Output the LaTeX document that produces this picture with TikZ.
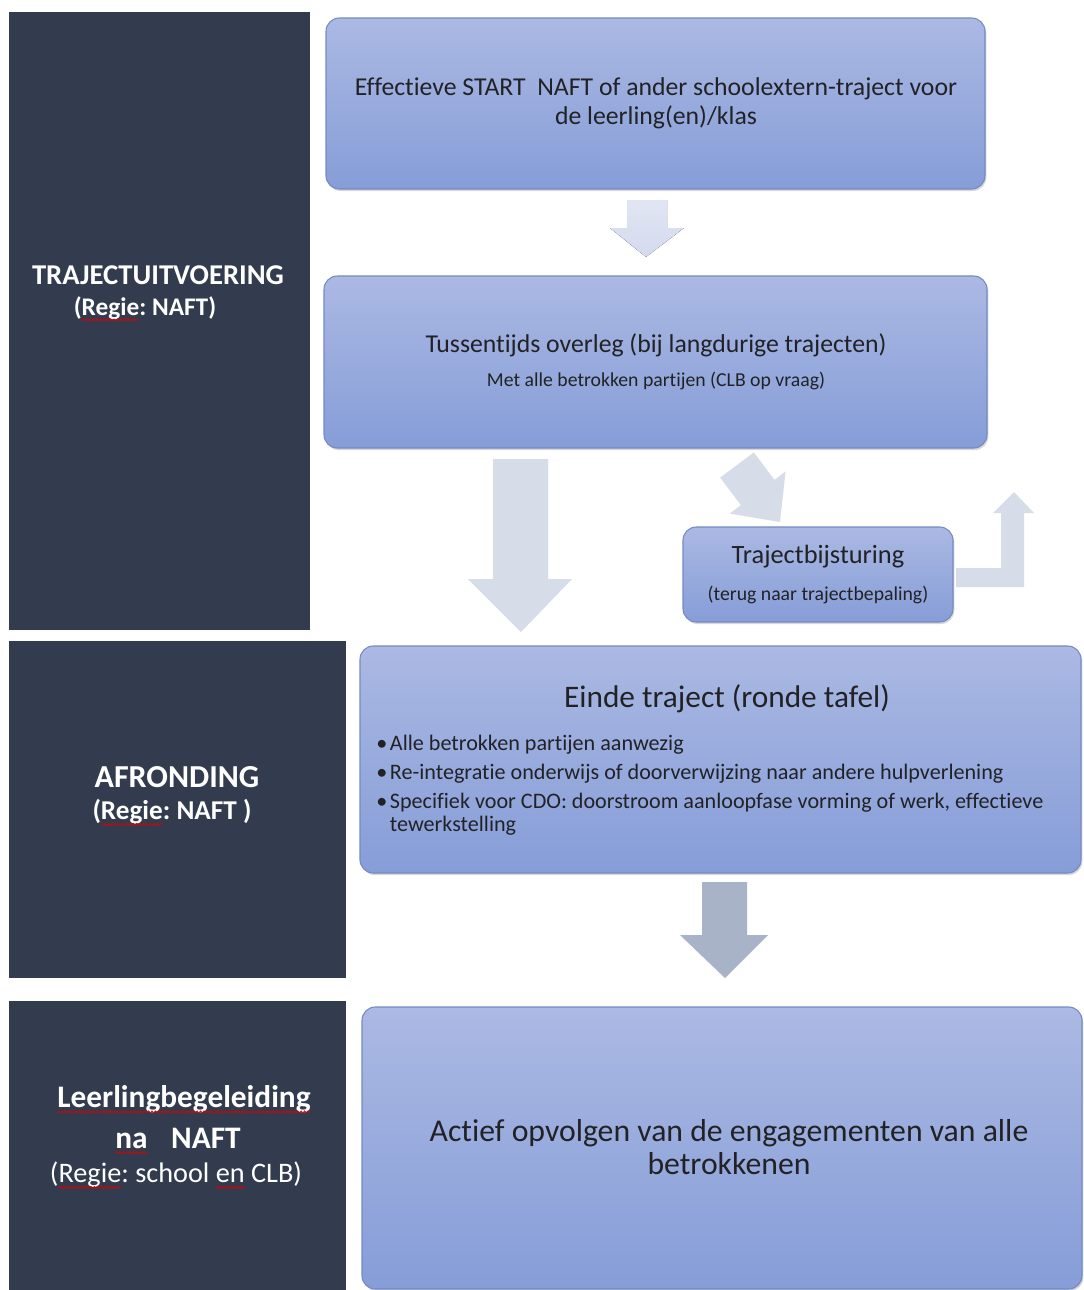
\documentclass[tikz,border=0pt]{standalone}
\usepackage{fontspec}
\setmainfont{Carlito}[Ligatures={NoCommon}]
\frenchspacing
\usetikzlibrary{shadows,decorations.pathmorphing}
\newcommand\redwave[1]{\tikz[baseline=(wv.base),x=1pt,y=1pt]{\node[inner sep=0pt,outer sep=0pt,anchor=base] (wv) {#1};
  \draw[overlay, red!85!black, line width=0.6pt, decorate, decoration={snake, amplitude=0.7pt, segment length=2.6pt}] ([yshift=-3.4pt]wv.base west) -- ([yshift=-3.4pt]wv.base east);}}
\definecolor{panel}{RGB}{50,60,78}
\definecolor{boxtop}{RGB}{171,185,227}
\definecolor{boxbot}{RGB}{134,157,216}
\definecolor{boxline}{RGB}{118,137,194}
\definecolor{arrowlight}{RGB}{214,220,232}
\definecolor{arrowpale}{RGB}{212,218,238}
\definecolor{arrowdark}{RGB}{168,179,200}
\definecolor{txt}{RGB}{34,34,38}
\begin{document}
\begin{tikzpicture}[x=0.75pt,y=-0.75pt,
  panelbox/.style={fill=panel, draw=none, anchor=north west, inner sep=0pt},
  bluebox/.style={rounded corners=10pt, draw=boxline, line width=0.8pt,
    top color=boxtop, bottom color=boxbot, inner sep=0pt, text=txt, align=center,
    drop shadow={shadow xshift=1pt, shadow yshift=-1.5pt, opacity=0.25, fill=black!60}},
  ptext/.style={text=white, align=center, inner sep=0pt},
  btext/.style={text=txt, align=center, inner sep=0pt},
  lightarrow/.style={fill=arrowlight, draw=none},
  palearrow/.style={top color=arrowpale!70!white, bottom color=arrowpale, draw=none},
  darkarrow/.style={fill=arrowdark, draw=none}
]
\useasboundingbox[fill=white] (0,0) rectangle (1084,1290);

% left panels
\node[panelbox, minimum width=301*0.75pt, minimum height=618*0.75pt] (p1) at (9,12) {};
\node[panelbox, minimum width=337*0.75pt, minimum height=337*0.75pt] (p2) at (9,641) {};
\node[panelbox, minimum width=337*0.75pt, minimum height=289*0.75pt] (p3) at (9,1001) {};

\node[ptext, font=\fontsize{21.5}{25}\selectfont\bfseries] (p1a) at (158,275) {TRAJECTUITVOERING};
\node[ptext, font=\fontsize{19}{22}\selectfont\bfseries] (p1b) at (145,308) {(\redwave{Regie}: NAFT)};

\node[ptext, font=\fontsize{24}{28}\selectfont\bfseries] (p2a) at (177,777) {AFRONDING};
\node[ptext, font=\fontsize{20.4}{24}\selectfont\bfseries] (p2b) at (172,812) {(\redwave{Regie}: NAFT )};

\node[ptext, font=\fontsize{23.5}{27}\selectfont\bfseries] (p3a) at (184,1099) {\redwave{Leerlingbegeleiding}};
\node[ptext, font=\fontsize{23.5}{27}\selectfont\bfseries] (p3b) at (178,1138) {\redwave{na}\hspace{0.75em}NAFT};
\node[ptext, font=\fontsize{21.2}{25}\selectfont] (p3c) at (176,1175) {(\redwave{Regie}: school \redwave{en} CLB)};

% blue boxes
\node[bluebox, minimum width=659*0.75pt, minimum height=171*0.75pt] (b1) at (655.5,103.5) {};
\node[btext, font=\fontsize{19.3}{21.8}\selectfont] (b1a) at (656,103) {Effectieve START\ \ NAFT of ander schoolextern-traject voor\\de leerling(en)/klas};

\node[bluebox, minimum width=663*0.75pt, minimum height=172*0.75pt] (b2) at (655.5,362) {};
\node[btext, font=\fontsize{19.3}{22}\selectfont] (b2a) at (656,345) {Tussentijds overleg (bij langdurige trajecten)};
\node[btext, font=\fontsize{14.8}{17}\selectfont] (b2b) at (656,381) {Met alle betrokken partijen (CLB op vraag)};

\node[bluebox, minimum width=270*0.75pt, minimum height=95*0.75pt] (b3) at (818,574.5) {};
\node[btext, font=\fontsize{19.8}{22}\selectfont] (b3a) at (818,557) {Trajectbijsturing};
\node[btext, font=\fontsize{14.8}{17}\selectfont] (b3b) at (818,595) {(terug naar trajectbepaling)};

\node[bluebox, minimum width=721*0.75pt, minimum height=227*0.75pt] (b4) at (720.5,759.5) {};
\node[btext, font=\fontsize{23.5}{26}\selectfont] (b4a) at (727,699) {Einde traject (ronde tafel)};
\node[btext, align=left, anchor=north west, font=\fontsize{16.6}{21.8}\selectfont] (b4b) at (376,735)
 {\textbullet\hspace{2pt}Alle betrokken partijen aanwezig\\
  \textbullet\hspace{2pt}Re-integratie onderwijs of doorverwijzing naar andere hulpverlening\\
  \textbullet\hspace{2pt}Specifiek voor CDO: doorstroom aanloopfase vorming of werk, effectieve\\[-4.6pt]
  \phantom{\textbullet}\hspace{2pt}tewerkstelling};

\node[bluebox, minimum width=720*0.75pt, minimum height=282*0.75pt] (b5) at (722,1148) {};
\node[btext, font=\fontsize{23.8}{24.5}\selectfont] (b5a) at (729,1147) {Actief opvolgen van de engagementen van alle\\betrokkenen};

% block arrows
\fill[palearrow] (627,200) -- (667,200) -- (667,228) -- (684,228) -- (646,257) -- (610,228) -- (627,228) -- cycle;
\fill[lightarrow] (493,459) -- (548,459) -- (548,579) -- (572,579) -- (521,632) -- (468,579) -- (493,579) -- cycle;
\fill[lightarrow] (720.2,477.6) -- (753.8,452.4) -- (774.5,479.9) -- (785.6,471.4) -- (780,522) -- (729.8,513.6) -- (740.9,505.1) -- cycle;
\fill[lightarrow] (956,568) -- (1001,568) -- (1001,513) -- (993,513) -- (1014,492) -- (1034,513) -- (1024,513) -- (1024,587) -- (956,587) -- cycle;
\fill[darkarrow] (702,882) -- (747,882) -- (747,935) -- (768,935) -- (725,978) -- (680,935) -- (702,935) -- cycle;
\end{tikzpicture}
\end{document}
